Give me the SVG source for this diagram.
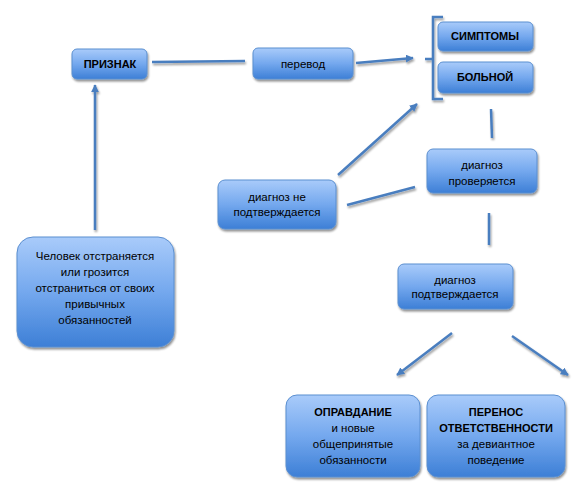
<svg xmlns="http://www.w3.org/2000/svg" width="587" height="489" viewBox="0 0 587 489">
<defs>
<linearGradient id="g" x1="0" y1="0" x2="0" y2="1">
<stop offset="0" stop-color="#a9cbfa"/>
<stop offset="0.5" stop-color="#74a8ee"/>
<stop offset="1" stop-color="#3d7fd6"/>
</linearGradient>
<filter id="sh" x="-10%" y="-10%" width="130%" height="140%">
<feGaussianBlur in="SourceAlpha" stdDeviation="1"/>
<feOffset dx="1" dy="2" result="b"/>
<feComponentTransfer><feFuncA type="linear" slope="0.45"/></feComponentTransfer>
<feMerge><feMergeNode/><feMergeNode in="SourceGraphic"/></feMerge>
</filter>
<filter id="shl" filterUnits="userSpaceOnUse" x="0" y="0" width="587" height="489">
<feGaussianBlur in="SourceAlpha" stdDeviation="0.8"/>
<feOffset dx="1" dy="1.5" result="b"/>
<feComponentTransfer><feFuncA type="linear" slope="0.4"/></feComponentTransfer>
<feMerge><feMergeNode/><feMergeNode in="SourceGraphic"/></feMerge>
</filter>
<marker id="ah" viewBox="0 0 10 10" refX="9" refY="5" markerWidth="3.2" markerHeight="3.2" orient="auto" markerUnits="strokeWidth">
<path d="M0,0 L10,5 L0,10 z" fill="#4a7ebf"/>
</marker>
</defs>
<style>
.box{fill:url(#g);stroke:#5b8fd0;stroke-width:1;filter:url(#sh)}
.t{font-family:"Liberation Sans",Arial,sans-serif;font-size:11.5px;fill:#000;text-anchor:middle}
.b{font-weight:bold;font-size:11px}
.c{stroke:#4a7ebf;stroke-width:2.5;fill:none}
.a{marker-end:url(#ah)}
</style>
<rect width="587" height="489" fill="#fff"/>
<g id="connectors" filter="url(#shl)">
<line class="c" x1="152" y1="62" x2="245" y2="61"/>
<line class="c a" x1="356" y1="63" x2="413" y2="58"/>
<line class="c a" x1="95" y1="230" x2="95" y2="85"/>
<line class="c a" x1="338" y1="175" x2="417" y2="104"/>
<line class="c" x1="347" y1="205" x2="415" y2="187"/>
<line class="c" x1="491" y1="109" x2="492" y2="138"/>
<line class="c" x1="489" y1="213" x2="489" y2="245"/>
<line class="c a" x1="452" y1="333" x2="397" y2="375"/>
<line class="c a" x1="512" y1="336" x2="568" y2="375"/>
<path class="c" d="M443,17 L433,17 L433,99 L443,99 M433,59 L425,59"/>
</g>
<g id="priznak">
<rect class="box" x="72" y="49" width="75" height="30" rx="5"/>
<text class="t b" x="110" y="68">ПРИЗНАК</text>
</g>
<g id="perevod">
<rect class="box" x="253" y="48" width="100" height="31" rx="5"/>
<text class="t" x="303" y="68">перевод</text>
</g>
<g id="simptomy">
<rect class="box" x="438" y="22" width="95" height="29" rx="5"/>
<text class="t b" x="485" y="40">СИМПТОМЫ</text>
</g>
<g id="bolnoy">
<rect class="box" x="438" y="62" width="95" height="31" rx="5"/>
<text class="t b" x="485" y="81">БОЛЬНОЙ</text>
</g>
<g id="proveryaetsya">
<rect class="box" x="427" y="149" width="110" height="44" rx="6"/>
<text class="t" x="482" y="169">диагноз</text>
<text class="t" x="482" y="185">проверяется</text>
</g>
<g id="ne-podtverzhdaetsya">
<rect class="box" x="218" y="180" width="118" height="49" rx="7"/>
<text class="t" x="277" y="201">диагноз не</text>
<text class="t" x="277" y="216">подтверждается</text>
</g>
<g id="chelovek">
<rect class="box" x="17" y="237" width="157" height="110" rx="16"/>
<text class="t" x="95" y="260">Человек отстраняется</text>
<text class="t" x="95" y="276">или грозится</text>
<text class="t" x="95" y="292">отстраниться от своих</text>
<text class="t" x="95" y="308">привычных</text>
<text class="t" x="95" y="324">обязанностей</text>
</g>
<g id="podtverzhdaetsya">
<rect class="box" x="398" y="264" width="115" height="45" rx="6"/>
<text class="t" x="455" y="284">диагноз</text>
<text class="t" x="455" y="298">подтверждается</text>
</g>
<g id="opravdanie">
<rect class="box" x="286" y="395" width="134" height="82" rx="11"/>
<text class="t b" x="353" y="416">ОПРАВДАНИЕ</text>
<text class="t" x="353" y="432">и новые</text>
<text class="t" x="353" y="448">общепринятые</text>
<text class="t" x="353" y="464">обязанности</text>
</g>
<g id="perenos">
<rect class="box" x="427" y="395" width="138" height="82" rx="11"/>
<text class="t b" x="496" y="416">ПЕРЕНОС</text>
<text class="t b" x="496" y="432">ОТВЕТСТВЕННОСТИ</text>
<text class="t" x="496" y="448">за девиантное</text>
<text class="t" x="496" y="464">поведение</text>
</g>
</svg>
